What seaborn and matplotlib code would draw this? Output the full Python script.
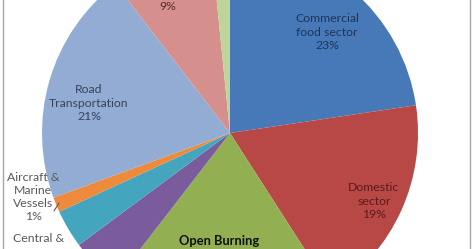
import matplotlib
matplotlib.use("Agg")
import matplotlib.pyplot as plt
import seaborn as sns
from matplotlib.patches import Rectangle

# ---- data (clockwise from 12 o'clock) ----
categories = ["Commercial food sector", "Domestic sector", "Open Burning",
              "Industries", "Central & State", "Aircraft & Marine Vessels",
              "Road Transportation", "Other", "Misc"]
values = [22.8, 18.4, 19.7, 4.4, 3.3, 1.3, 20.3, 8.9, 1.6]
shown_pct = ["23%", "19%", "", "", "", "1%", "21%", "9%", ""]

colors = ["#4779B8", "#B84845", "#92AF52", "#7A5C9C", "#44A5BF",
          "#EE8A3C", "#93ACD4", "#D58F8D", "#BFD498"]

sns.set_theme(style="white")
plt.rcParams["font.family"] = ["Lato", "DejaVu Sans"]

W, H = 474, 249
fig = plt.figure(figsize=(W / 100, H / 100), dpi=100)
ax = fig.add_axes([0, 0, 1, 1])

cx, cy, r = 230, H - 133, 188
ax.pie(values, colors=colors, startangle=90, counterclock=False,
       center=(cx, cy), radius=r,
       wedgeprops=dict(linewidth=0.4, edgecolor="none"))

ax.set_xlim(0, W)
ax.set_ylim(0, H)
ax.set_aspect("equal")
ax.axis("off")

# chart frame (only the side edges are visible in the crop)
ax.add_patch(Rectangle((3, -20), 467, H + 40, fill=False,
                       edgecolor="#A6A6A6", linewidth=1.0, zorder=5))

fs = 8.8
def lab(x, y, s, color, **kw):
    ax.text(x, H - y, s, ha="center", va="center", fontsize=fs,
            color=color, linespacing=1.25, **kw)

lab(327, 32, f"Commercial\nfood sector\n{shown_pct[0]}", "#1F3558")
lab(374, 201, f"Domestic\nsector\n{shown_pct[1]}", "#5A1C1B")
lab(89, 103, f"Road\nTransportation\n{shown_pct[6]}", "#36435E")
lab(168, 6, shown_pct[7], "#5A2B2A")
lab(33, 197, f"Aircraft &\nMarine\nVessels\n{shown_pct[5]}", "#595959")
lab(39, 238, "Central &", "#595959")
ax.text(219, H - 241, "Open Burning", ha="center", va="center",
        fontsize=9.3, fontweight="bold", color="#111111")

# leader line for the small slice
ax.plot([54, 59], [H - 211, H - 203], color="#595959", linewidth=0.8)

fig.savefig("out.png", dpi=100)
